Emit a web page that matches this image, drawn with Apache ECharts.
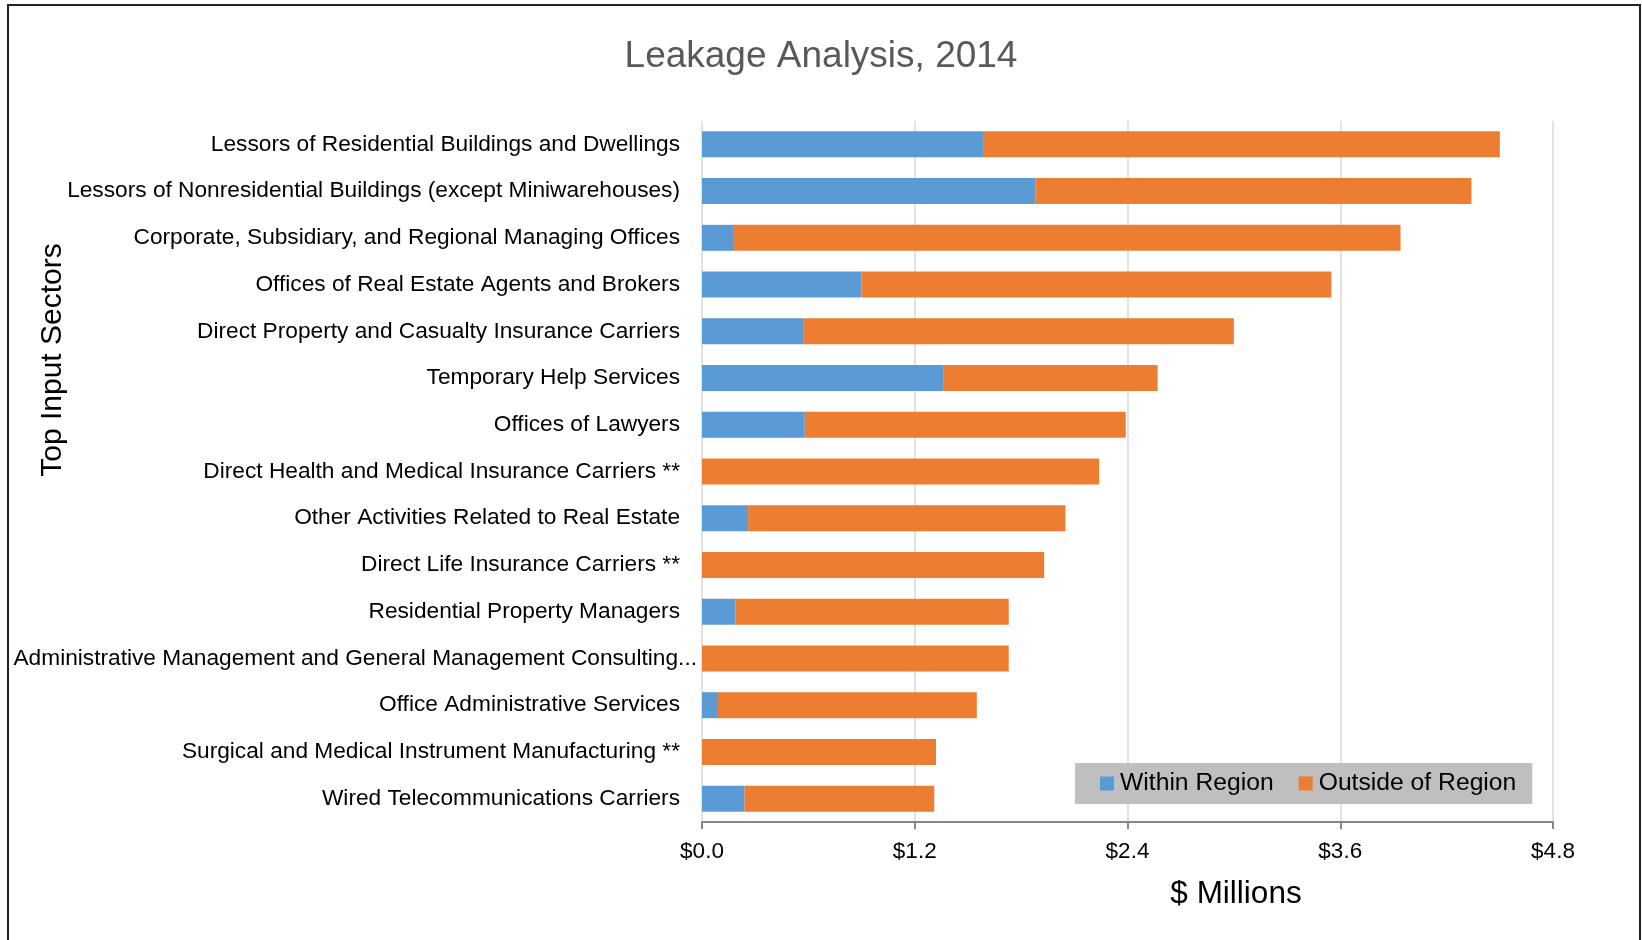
<!DOCTYPE html>
<html>
<head>
<meta charset="utf-8">
<script src="https://cdn.jsdelivr.net/npm/echarts@6/dist/echarts.min.js"></script>
<style>
  html, body { margin: 0; padding: 0; background: #fff; }
  #frame { position: absolute; left: 7px; top: 4px; width: 1630px; height: 1000px;
           border-left: 2px solid #222; border-top: 2px solid #222; border-right: 2px solid #222; }
  #chart { position: absolute; left: 0; top: 0; width: 1642px; height: 940px; }
</style>
</head>
<body>
<div id="frame"></div>
<div id="chart"></div>
<script>
const categories = [
  "Lessors of Residential Buildings and Dwellings",
  "Lessors of Nonresidential Buildings (except Miniwarehouses)",
  "Corporate, Subsidiary, and Regional Managing Offices",
  "Offices of Real Estate Agents and Brokers",
  "Direct Property and Casualty Insurance Carriers",
  "Temporary Help Services",
  "Offices of Lawyers",
  "Direct Health and Medical Insurance Carriers **",
  "Other Activities Related to Real Estate",
  "Direct Life Insurance Carriers **",
  "Residential Property Managers",
  "Administrative Management and General Management Consulting...",
  "Office Administrative Services",
  "Surgical and Medical Instrument Manufacturing **",
  "Wired Telecommunications Carriers"
];
const withinRegion = [1.59, 1.88, 0.18, 0.90, 0.57, 1.36, 0.58, 0, 0.26, 0, 0.19, 0, 0.09, 0, 0.24];
const outsideRegion = [2.91, 2.46, 3.76, 2.65, 2.43, 1.21, 1.81, 2.24, 1.79, 1.93, 1.54, 1.73, 1.46, 1.32, 1.07];
const xTicks = { min: 0, max: 4.8, interval: 1.2 };

const FONT = '"Liberation Sans", Arial, sans-serif';
const yData = categories.map(c => c.endsWith('...')
  ? { value: c, textStyle: { padding: [0, -17, 0, 0] } }
  : c);

const chart = echarts.init(document.getElementById('chart'), null, { renderer: 'canvas' });
chart.setOption({
  animation: false,
  backgroundColor: 'transparent',
  title: {
    text: 'Leakage Analysis, 2014',
    left: 'center', top: 33,
    textStyle: { fontFamily: FONT, fontSize: 37, fontWeight: 'normal', color: '#595959' }
  },
  legend: {
    left: 1075, top: 763,
    backgroundColor: '#bfbfbf',
    padding: [8, 16, 8, 25],
    itemWidth: 14, itemHeight: 14, itemGap: 25,
    icon: 'rect',
    textStyle: { fontFamily: FONT, fontSize: 24.7, color: '#000', padding: [0, 0, 0, 1] },
    data: ['Within Region', 'Outside of Region']
  },
  grid: { left: 702, right: 89, top: 121, bottom: 118, containLabel: false, outerBoundsMode: 'none' },
  xAxis: {
    type: 'value', min: xTicks.min, max: xTicks.max, interval: xTicks.interval,
    axisLine: { show: true, lineStyle: { color: '#868686', width: 2 } },
    axisTick: { show: true, length: 7, lineStyle: { color: '#868686', width: 2 } },
    splitLine: { show: true, lineStyle: { color: '#d9d9d9', width: 1.5 } },
    axisLabel: { margin: 18, fontFamily: FONT, fontSize: 22.5, color: '#000',
                 formatter: v => '$' + v.toFixed(1) }
  },
  yAxis: {
    type: 'category', data: yData, inverse: true,
    axisLine: { show: false }, axisTick: { show: false },
    axisLabel: { margin: 22, fontFamily: FONT, fontSize: 22.7, color: '#000' }
  },
  series: [
    { name: 'Within Region', type: 'bar', stack: 'total', data: withinRegion,
      barWidth: 26, itemStyle: { color: '#5b9bd5' } },
    { name: 'Outside of Region', type: 'bar', stack: 'total', data: outsideRegion,
      barWidth: 26, itemStyle: { color: '#ed7d31' } }
  ],
  graphic: [
    { type: 'text', x: 53, y: 360, rotation: Math.PI / 2,
      style: { text: 'Top Input Sectors', font: '30px ' + FONT, fill: '#000',
               textAlign: 'center', textVerticalAlign: 'middle' } },
    { type: 'text', x: 1236, y: 894,
      style: { text: '$ Millions', font: '31.5px ' + FONT, fill: '#000',
               textAlign: 'center', textVerticalAlign: 'middle' } }
  ]
});
</script>
</body>
</html>
